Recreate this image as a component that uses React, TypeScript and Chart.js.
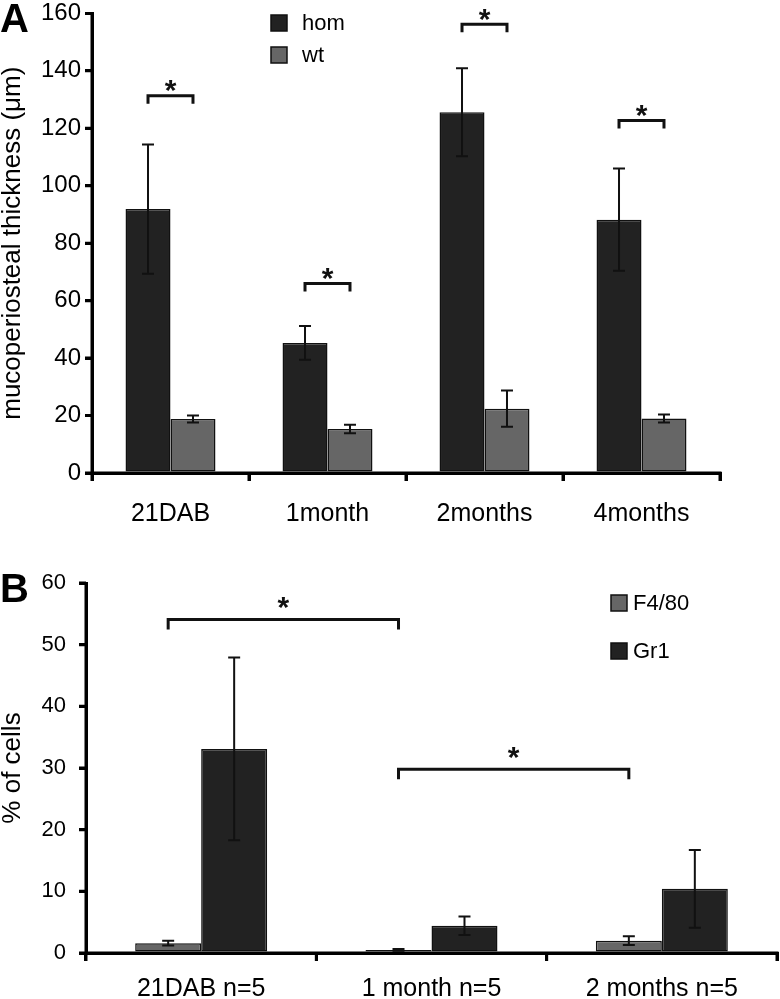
import React, { useEffect, useRef } from "react";
import { Chart, registerables } from "chart.js";

Chart.register(...registerables);

// ---------- Panel A data ----------
const categoriesA = ["21DAB", "1month", "2months", "4months"];
const homValues = [91.9, 45.3, 125.6, 88.2];
const homErrors = [22.5, 5.9, 15.3, 17.8];
const wtValues = [18.8, 15.3, 22.4, 19.0];
const wtErrors = [1.2, 1.5, 6.3, 1.4];
const yTicksA = [0, 20, 40, 60, 80, 100, 120, 140, 160];
const sigLevelsA = [131.3, 66.0, 156.2, 122.7];

// ---------- Panel B data ----------
const categoriesB = ["21DAB n=5", "1 month n=5", "2 months n=5"];
const f480Values = [1.6, 0.5, 2.0];
const f480Errors = [0.4, 0.15, 0.7];
const gr1Values = [33.1, 4.4, 10.4];
const gr1Errors = [14.8, 1.5, 6.3];
const yTicksB = [0, 10, 20, 30, 40, 50, 60];
const sigPairsB = [
  [0, 1],
  [1, 2],
];
const sigLevelsB = [54.1, 29.8];

const FONT = "'Liberation Sans', Arial, Helvetica, sans-serif";
const DARK = "#222222";
const GRAY = "#666666";
const INK = "#111111";

function errorBarPlugin(errors: number[][]) {
  return {
    id: "errbars",
    afterDatasetsDraw(chart: any) {
      const ctx = chart.ctx;
      const y = chart.scales.y;
      ctx.save();
      ctx.strokeStyle = INK;
      ctx.lineWidth = 2;
      chart.data.datasets.forEach((ds: any, di: number) => {
        const meta = chart.getDatasetMeta(di);
        meta.data.forEach((el: any, i: number) => {
          const v = ds.data[i];
          const e = errors[di][i];
          const yt = y.getPixelForValue(v + e);
          const yb = y.getPixelForValue(Math.max(0, v - e));
          const x = el.x;
          ctx.beginPath();
          ctx.moveTo(x, yt);
          ctx.lineTo(x, yb);
          ctx.moveTo(x - 6, yt);
          ctx.lineTo(x + 6, yt);
          ctx.moveTo(x - 6, yb);
          ctx.lineTo(x + 6, yb);
          ctx.stroke();
        });
      });
      ctx.restore();
    },
  };
}

// bold axis lines + outward ticks, positioned from the chart's own scales
function axisOverlay(yTicks: number[]) {
  return {
    id: "axisOverlay",
    afterDraw(chart: any) {
      const ctx = chart.ctx;
      const { left, right, bottom, top } = chart.chartArea;
      const xs = chart.scales.x;
      const ys = chart.scales.y;
      ctx.save();
      ctx.strokeStyle = "#000";
      ctx.lineWidth = 3;
      ctx.lineCap = "butt";
      ctx.beginPath();
      // y axis line (extends down through the first x tick)
      ctx.moveTo(left, top);
      ctx.lineTo(left, bottom + 8);
      // y ticks
      yTicks.forEach((v) => {
        const py = ys.getPixelForValue(v);
        ctx.moveTo(left - 7, py);
        ctx.lineTo(left, py);
      });
      // x axis line
      ctx.moveTo(left, bottom);
      ctx.lineTo(right + 1.5, bottom);
      // x ticks at category boundaries
      const n = chart.data.labels.length;
      const bounds = [left, right];
      for (let i = 0; i < n - 1; i++) {
        bounds.push((xs.getPixelForValue(i) + xs.getPixelForValue(i + 1)) / 2);
      }
      bounds.forEach((bx) => {
        ctx.moveTo(bx, bottom);
        ctx.lineTo(bx, bottom + 8);
      });
      ctx.stroke();
      ctx.restore();
    },
  };
}

function drawBracket(ctx: any, x1: number, x2: number, yb: number, leg: number, starOff: number) {
  ctx.save();
  ctx.strokeStyle = INK;
  ctx.lineWidth = 3;
  ctx.lineJoin = "miter";
  ctx.beginPath();
  ctx.moveTo(x1, yb + leg);
  ctx.lineTo(x1, yb);
  ctx.lineTo(x2, yb);
  ctx.lineTo(x2, yb + leg);
  ctx.stroke();
  ctx.fillStyle = INK;
  ctx.font = `bold 30px ${FONT}`;
  ctx.textAlign = "center";
  ctx.textBaseline = "alphabetic";
  ctx.fillText("*", (x1 + x2) / 2, yb - starOff + 0.58 * 30);
  ctx.restore();
}

function legendPlugin(items: { x: number; y: number }[], textX: number) {
  return {
    id: "customLegend",
    afterDraw(chart: any) {
      const ctx = chart.ctx;
      ctx.save();
      chart.data.datasets.forEach((ds: any, di: number) => {
        const p = items[di];
        ctx.fillStyle = ds.backgroundColor;
        ctx.fillRect(p.x, p.y, 16, 16);
        ctx.strokeStyle = INK;
        ctx.lineWidth = 1.5;
        ctx.strokeRect(p.x, p.y, 16, 16);
        ctx.fillStyle = "#000";
        ctx.font = `22px ${FONT}`;
        ctx.textAlign = "left";
        ctx.textBaseline = "middle";
        ctx.fillText(ds.label, textX, p.y + 9);
      });
      ctx.restore();
    },
  };
}

function panelLabel(text: string, x: number, baseline: number) {
  return {
    id: "panelLabel",
    afterDraw(chart: any) {
      const ctx = chart.ctx;
      ctx.save();
      ctx.fillStyle = "#000";
      ctx.font = `bold 40px ${FONT}`;
      ctx.textAlign = "left";
      ctx.textBaseline = "alphabetic";
      ctx.fillText(text, x, baseline);
      ctx.restore();
    },
  };
}

function axisOpts(cfg: {
  yTicks: number[];
  yWidth: number;
  xHeight: number;
  yTitle: string;
  yTickFont: number;
  yTickPad: number;
  xTickFont: number;
  xTickPad: number;
}) {
  return {
    x: {
      afterFit: (s: any) => {
        s.height = cfg.xHeight;
      },
      border: { display: true, color: "#000", width: 3 },
      grid: {
        display: true,
        drawOnChartArea: false,
        drawTicks: true,
        tickLength: 8,
        lineWidth: 3,
        tickWidth: 3,
        tickColor: "#000",
        color: "#000",
        offset: true,
      },
      ticks: {
        color: "#000",
        font: { size: cfg.xTickFont, family: FONT },
        padding: cfg.xTickPad,
        maxRotation: 0,
        autoSkip: false,
      },
    },
    y: {
      min: cfg.yTicks[0],
      max: cfg.yTicks[cfg.yTicks.length - 1],
      afterBuildTicks: (s: any) => {
        s.ticks = cfg.yTicks.map((v) => ({ value: v }));
      },
      afterFit: (s: any) => {
        s.width = cfg.yWidth;
      },
      border: { display: true, color: "#000", width: 3 },
      grid: {
        display: true,
        drawOnChartArea: false,
        drawTicks: true,
        tickLength: 7,
        lineWidth: 3,
        tickWidth: 3,
        tickColor: "#000",
        color: "#000",
      },
      ticks: {
        color: "#000",
        font: { size: cfg.yTickFont, family: FONT },
        padding: cfg.yTickPad,
      },
      title: {
        display: true,
        text: cfg.yTitle,
        color: "#000",
        font: { size: 26, family: FONT, lineHeight: 1 },
        padding: 0,
      },
    },
  };
}

function ChartA() {
  const ref = useRef<HTMLCanvasElement>(null);
  useEffect(() => {
    const chart = new Chart(ref.current as HTMLCanvasElement, {
      type: "bar",
      data: {
        labels: categoriesA,
        datasets: [
          {
            label: "hom",
            data: homValues,
            backgroundColor: DARK,
            borderColor: INK,
            borderWidth: 1.5,
            borderSkipped: false,
            categoryPercentage: 0.573,
            barPercentage: 1,
          },
          {
            label: "wt",
            data: wtValues,
            backgroundColor: GRAY,
            borderColor: INK,
            borderWidth: 1.5,
            borderSkipped: false,
            categoryPercentage: 0.573,
            barPercentage: 1,
          },
        ],
      },
      options: {
        responsive: false,
        maintainAspectRatio: false,
        animation: false,
        layout: { padding: { top: 15, right: 60, left: 0, bottom: 0 } },
        plugins: { legend: { display: false }, tooltip: { enabled: false } },
        scales: axisOpts({
          yTicks: yTicksA,
          yWidth: 92,
          xHeight: 57,
          yTitle: "mucoperiosteal thickness (μm)",
          yTickFont: 24,
          yTickPad: 4,
          xTickFont: 25,
          xTickPad: 18,
        }) as any,
      },
      plugins: [
        errorBarPlugin([homErrors, wtErrors]),
        axisOverlay(yTicksA),
        {
          id: "sigA",
          afterDraw(c: any) {
            const m0 = c.getDatasetMeta(0);
            const m1 = c.getDatasetMeta(1);
            sigLevelsA.forEach((lv, i) => {
              drawBracket(c.ctx, m0.data[i].x, m1.data[i].x, c.scales.y.getPixelForValue(lv), 8, 13);
            });
          },
        },
        legendPlugin(
          [
            { x: 271, y: 20 },
            { x: 271, y: 52 },
          ],
          302
        ),
        panelLabel("A", 0, 37),
      ] as any,
    });
    return () => chart.destroy();
  }, []);
  return (
    <canvas
      ref={ref}
      width={780}
      height={535}
      style={{ position: "absolute", left: 0, top: -5, width: 780, height: 535 }}
    />
  );
}

function ChartB() {
  const ref = useRef<HTMLCanvasElement>(null);
  useEffect(() => {
    const chart = new Chart(ref.current as HTMLCanvasElement, {
      type: "bar",
      data: {
        labels: categoriesB,
        datasets: [
          {
            label: "F4/80",
            data: f480Values,
            backgroundColor: GRAY,
            borderColor: INK,
            borderWidth: 1.5,
            borderSkipped: false,
            categoryPercentage: 0.573,
            barPercentage: 1,
          },
          {
            label: "Gr1",
            data: gr1Values,
            backgroundColor: DARK,
            borderColor: INK,
            borderWidth: 1.5,
            borderSkipped: false,
            categoryPercentage: 0.573,
            barPercentage: 1,
          },
        ],
      },
      options: {
        responsive: false,
        maintainAspectRatio: false,
        animation: false,
        layout: { padding: { top: 43, right: 3, left: 0, bottom: 0 } },
        plugins: { legend: { display: false }, tooltip: { enabled: false } },
        scales: axisOpts({
          yTicks: yTicksB,
          yWidth: 86,
          xHeight: 46,
          yTitle: "% of cells",
          yTickFont: 22,
          yTickPad: 13,
          xTickFont: 25,
          xTickPad: 13,
        }) as any,
      },
      plugins: [
        errorBarPlugin([f480Errors, gr1Errors]),
        axisOverlay(yTicksB),
        {
          id: "sigB",
          afterDraw(c: any) {
            const m0 = c.getDatasetMeta(0);
            sigPairsB.forEach((pair, i) => {
              drawBracket(
                c.ctx,
                m0.data[pair[0]].x,
                m0.data[pair[1]].x,
                c.scales.y.getPixelForValue(sigLevelsB[i]),
                10,
                20
              );
            });
          },
        },
        legendPlugin(
          [
            { x: 611, y: 55 },
            { x: 611, y: 103 },
          ],
          633
        ),
        panelLabel("B", 0, 62),
      ] as any,
    });
    return () => chart.destroy();
  }, []);
  return (
    <canvas
      ref={ref}
      width={780}
      height={459}
      style={{ position: "absolute", left: 0, top: 540, width: 780, height: 459 }}
    />
  );
}

export default function App() {
  return (
    <div
      style={{
        position: "absolute",
        left: 0,
        top: 0,
        width: 780,
        height: 999,
        background: "#fff",
        overflow: "hidden",
      }}
    >
      <ChartA />
      <ChartB />
    </div>
  );
}
